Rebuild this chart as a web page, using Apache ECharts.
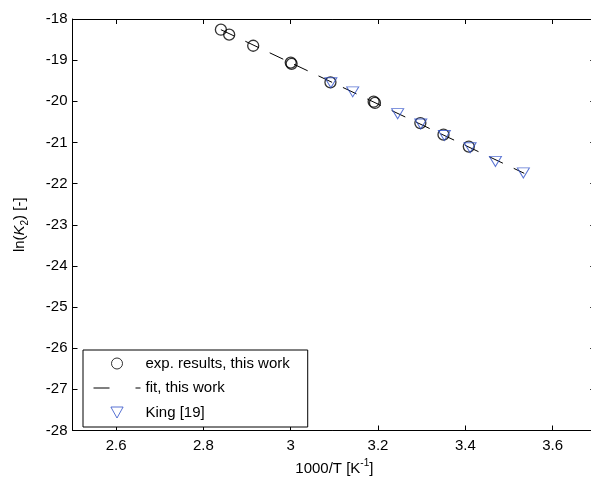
<!DOCTYPE html>
<html>
<head>
<meta charset="utf-8">
<script src="https://cdn.jsdelivr.net/npm/echarts@6/dist/echarts.min.js"></script>
<style>html,body{margin:0;padding:0;background:#fff;}#c{width:591px;height:477px;}</style>
</head>
<body>
<div id="c"></div>
<script>
// ---- data ----
const expX = [2.840, 2.859, 2.914, 3.000, 3.002, 3.091, 3.190, 3.193, 3.297, 3.350, 3.408];
const expY = [-18.26, -18.38, -18.65, -19.06, -19.09, -19.54, -20.01, -20.04, -20.53, -20.81, -21.10];
const kingX = [3.092, 3.142, 3.245, 3.298, 3.352, 3.411, 3.469, 3.533];
const kingY = [-19.55, -19.77, -20.30, -20.55, -20.83, -21.13, -21.46, -21.74];
const fitX = [2.84, 3.535];
const fitY = [-18.26, -21.75];
const xTicks = [2.6, 2.8, 3.0, 3.2, 3.4, 3.6];
const seriesNames = ['exp. results, this work', 'fit, this work', 'King [19]'];

const FONT = "'Liberation Sans', Arial, sans-serif";
const BLUE = '#3050c8';
const TRI = 'path://M0,0 L10,0 L5,9 Z';
const zip = (a, b) => a.map((v, i) => [v, b[i]]);

const chart = echarts.init(document.getElementById('c'), null, {renderer: 'canvas'});
const axisCommon = {
  axisLine: {show: true, onZero: false, lineStyle: {color: '#000', width: 1}},
  splitLine: {show: false},
};
chart.setOption({
  animation: false,
  backgroundColor: '#fff',
  grid: {left: 72.5, top: 19, width: 523.75, height: 411.5, containLabel: false, outerBoundsMode: 'none'},
  xAxis: [
    Object.assign({
      type: 'value', min: 2.5, max: 3.7, position: 'bottom',
      axisTick: {show: true, inside: true, length: 5, customValues: xTicks, lineStyle: {color: '#000'}},
      axisLabel: {customValues: xTicks, margin: 8, color: '#000', fontSize: 15, fontFamily: FONT,
        formatter: v => String(+v.toFixed(2))},
      name: '{n|1000/T [K}{s|-1}{n|]}', nameLocation: 'middle', nameGap: 27,
      nameTextStyle: {fontFamily: FONT, color: '#000', fontSize: 15,
        rich: {n: {fontSize: 15, fontFamily: FONT, color: '#000', lineHeight: 20, verticalAlign: 'middle'},
               s: {fontSize: 10, fontFamily: FONT, color: '#000', lineHeight: 20, verticalAlign: 'top'}}}
    }, axisCommon),
    Object.assign({
      type: 'value', min: 2.5, max: 3.7, position: 'top',
      axisTick: {show: true, inside: true, length: 5, customValues: xTicks, lineStyle: {color: '#000'}},
      axisLabel: {show: false}
    }, axisCommon)
  ],
  yAxis: [
    Object.assign({
      type: 'value', min: -28, max: -18, interval: 1, position: 'left',
      axisTick: {show: true, inside: true, length: 5, lineStyle: {color: '#000'}},
      axisLabel: {margin: 5, color: '#000', fontSize: 15, fontFamily: FONT},
      name: '{n|ln(}{i|K}{s|2}{n|) [-]}', nameLocation: 'middle', nameGap: 42, nameRotate: 90,
      nameTextStyle: {fontFamily: FONT, color: '#000', fontSize: 15,
        rich: {n: {fontSize: 15, fontFamily: FONT, color: '#000', lineHeight: 22, verticalAlign: 'middle'},
               i: {fontSize: 15, fontFamily: FONT, color: '#000', fontStyle: 'italic', lineHeight: 22, verticalAlign: 'middle'},
               s: {fontSize: 10, fontFamily: FONT, color: '#000', lineHeight: 22, verticalAlign: 'bottom'}}}
    }, axisCommon),
    {
      type: 'value', min: -28, max: -18, interval: 1, position: 'right',
      axisLine: {show: false, onZero: false},
      splitLine: {show: false},
      axisTick: {show: true, inside: true, length: 6, lineStyle: {color: '#000'}},
      axisLabel: {show: false}
    }
  ],
  legend: {
    orient: 'vertical', left: 83, top: 350,
    padding: [6, 18, 7, 10], itemGap: 9.5, itemWidth: 47, itemHeight: 11,
    borderColor: '#000', borderWidth: 1, backgroundColor: '#fff',
    selectedMode: false,
    textStyle: {fontSize: 15, color: '#000', fontFamily: FONT},
    data: [
      {name: seriesNames[0], icon: 'circle', itemStyle: {color: 'transparent', borderColor: '#000', borderWidth: 1}},
      {name: seriesNames[1], itemStyle: {color: 'transparent', borderColor: 'transparent', borderWidth: 0, opacity: 0},
       lineStyle: {type: [16, 26], color: '#000', width: 1, opacity: 1}},
      {name: seriesNames[2], icon: TRI, itemStyle: {color: 'transparent', borderColor: BLUE, borderWidth: 1}}
    ]
  },
  series: [
    {
      name: seriesNames[1], type: 'line', xAxisIndex: 0, yAxisIndex: 0,
      data: zip(fitX, fitY), symbol: 'none', silent: true, z: 1,
      lineStyle: {color: '#000', width: 1, type: [15, 12]},
      emphasis: {disabled: true}
    },
    {
      name: seriesNames[0], type: 'scatter', xAxisIndex: 0, yAxisIndex: 0,
      data: zip(expX, expY), symbol: 'circle', symbolSize: 11, silent: true, z: 2,
      itemStyle: {color: 'transparent', borderColor: '#000', borderWidth: 1.3},
      emphasis: {disabled: true}
    },
    {
      name: seriesNames[2], type: 'scatter', xAxisIndex: 0, yAxisIndex: 0,
      data: zip(kingX, kingY), symbol: TRI, symbolSize: [12, 10], silent: true, z: 3,
      itemStyle: {color: 'transparent', borderColor: BLUE, borderWidth: 1},
      emphasis: {disabled: true}
    }
  ]
});
</script>
</body>
</html>
